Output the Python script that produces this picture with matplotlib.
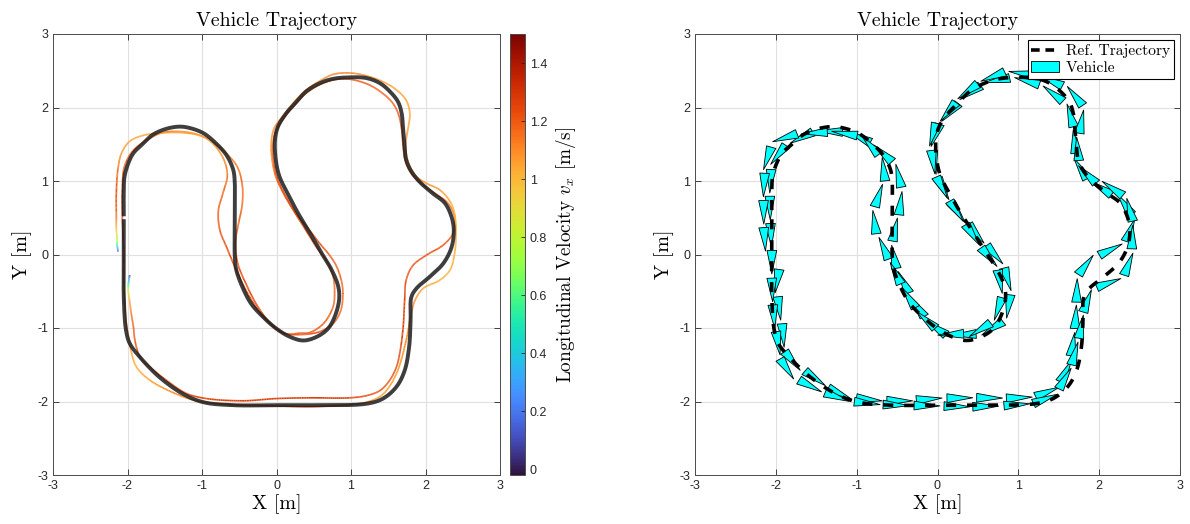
import numpy as np
import matplotlib
matplotlib.use("Agg")
import matplotlib.pyplot as plt
from matplotlib.collections import LineCollection, PolyCollection
from matplotlib.lines import Line2D
from matplotlib.patches import Patch
from matplotlib.colors import Normalize

plt.rcParams["axes.unicode_minus"] = False
plt.rcParams["mathtext.fontset"] = "cm"
plt.rcParams["font.family"] = ["Liberation Sans", "DejaVu Sans"]
SERIF = "cmr10"

# ---------------- reference trajectory (track centre line) ----------------
REF_X = [-2.05, -2.05, -2.05, -2.05, -2.02, -1.97, -1.83, -1.57, -1.25, -0.98,
         -0.58, 0.00, 0.54, 1.21, 1.43, 1.61, 1.72, 1.78, 1.80, 1.81,
         1.88, 2.06, 2.24, 2.35, 2.38, 2.35, 2.26, 2.10, 1.92, 1.81,
         1.74, 1.72, 1.70, 1.68, 1.63, 1.52, 1.39, 1.21, 0.98, 0.76,
         0.58, 0.40, 0.27, 0.13, 0.02, -0.02, -0.01, 0.04, 0.16, 0.29,
         0.45, 0.58, 0.74, 0.83, 0.84, 0.78, 0.69, 0.54, 0.36, 0.18,
         0.00, -0.18, -0.34, -0.45, -0.54, -0.56, -0.56, -0.56, -0.56, -0.58,
         -0.67, -0.81, -0.98, -1.16, -1.30, -1.48, -1.66, -1.79, -1.92, -1.99,
         -2.04, -2.05, -2.05]
REF_Y = [0.48, 0.20, -0.12, -0.58, -1.03, -1.21, -1.40, -1.67, -1.90, -2.01,
         -2.05, -2.05, -2.05, -2.03, -1.96, -1.80, -1.58, -1.26, -0.90, -0.58,
         -0.46, -0.30, -0.12, 0.10, 0.33, 0.51, 0.70, 0.83, 0.99, 1.13,
         1.29, 1.47, 1.70, 1.92, 2.08, 2.22, 2.33, 2.40, 2.41, 2.39,
         2.33, 2.22, 2.08, 1.92, 1.74, 1.56, 1.29, 1.06, 0.81, 0.56,
         0.29, 0.06, -0.21, -0.44, -0.62, -0.85, -1.01, -1.12, -1.17, -1.12,
         -1.01, -0.85, -0.67, -0.46, -0.21, -0.03, 0.33, 0.70, 0.97, 1.15,
         1.35, 1.51, 1.65, 1.72, 1.74, 1.71, 1.63, 1.51, 1.38, 1.24,
         1.06, 0.88, 0.52]

# ---------------- driven vehicle path (two laps) and its speed ----------------
RUN_X = [-1.97, -1.98, -1.99, -1.99, -1.97, -1.95, -1.92, -1.90, -1.83, -1.70,
         -1.48, -1.21, -0.94, -0.45, 0.00, 0.45, 0.98, 1.21, 1.39, 1.52,
         1.61, 1.66, 1.70, 1.72, 1.74, 1.83, 2.01, 2.24, 2.37, 2.39,
         2.30, 2.13, 1.95, 1.81, 1.73, 1.70, 1.68, 1.64, 1.56, 1.44,
         1.28, 1.10, 0.92, 0.74, 0.56, 0.38, 0.24, 0.10, -0.01, -0.05,
         -0.04, 0.01, 0.12, 0.26, 0.42, 0.58, 0.72, 0.81, 0.88, 0.89,
         0.86, 0.76, 0.58, 0.31, 0.10, -0.07, -0.25, -0.40, -0.52, -0.55,
         -0.51, -0.46, -0.46, -0.53, -0.70, -0.90, -1.05, -1.25, -1.52, -1.70,
         -1.92, -2.04, -2.07, -2.07, -2.06, -2.05, -2.05, -2.04, -2.02,
         -1.99, -1.95, -1.88, -1.70, -1.34, -1.07, -0.67, 0.00, 0.45, 0.90,
         1.21, 1.43, 1.61, 1.74, 1.81, 1.86, 1.97, 2.19, 2.33, 2.39,
         2.41, 2.39, 2.33, 2.19, 2.01, 1.88, 1.79, 1.74, 1.74, 1.77,
         1.79, 1.74, 1.61, 1.43, 1.21, 0.98, 0.76, 0.58, 0.40, 0.25,
         0.10, -0.03, -0.07, -0.06, -0.01, 0.10, 0.24, 0.40, 0.55, 0.68,
         0.76, 0.78, 0.76, 0.63, 0.45, 0.31, 0.13, -0.13, -0.36, -0.54,
         -0.67, -0.76, -0.78, -0.72, -0.66, -0.72, -0.90, -1.07, -1.34, -1.57,
         -1.79, -1.97, -2.08, -2.13, -2.15, -2.15, -2.15, -2.14, -2.14, -2.13,
         -2.13]
RUN_Y = [-0.28, -0.34, -0.42, -0.50, -0.64, -0.80, -0.99, -1.17, -1.40, -1.53,
         -1.71, -1.89, -1.96, -1.99, -1.96, -1.95, -1.95, -1.92, -1.85, -1.71,
         -1.53, -1.31, -0.99, -0.62, -0.35, -0.15, -0.01, 0.13, 0.29, 0.51,
         0.70, 0.83, 0.96, 1.10, 1.27, 1.47, 1.70, 1.90, 2.06, 2.18,
         2.29, 2.36, 2.39, 2.37, 2.30, 2.18, 2.03, 1.86, 1.67, 1.48,
         1.27, 1.04, 0.80, 0.56, 0.36, 0.15, -0.02, -0.17, -0.40, -0.58,
         -0.77, -0.94, -1.05, -1.09, -1.07, -0.95, -0.71, -0.42, -0.12, 0.17,
         0.42, 0.68, 0.95, 1.20, 1.40, 1.56, 1.63, 1.67, 1.66, 1.58,
         1.42, 1.20, 0.88, 0.55, 0.25, 0.00, -0.30, -0.60, -0.90,
         -1.10, -1.32, -1.53, -1.71, -1.90, -1.99, -2.04, -2.06, -2.07, -2.05,
         -2.01, -1.90, -1.62, -1.17, -0.80, -0.62, -0.46, -0.35, -0.21, 0.01,
         0.29, 0.56, 0.72, 0.88, 0.97, 1.06, 1.20, 1.38, 1.56, 1.74,
         1.92, 2.10, 2.24, 2.35, 2.43, 2.47, 2.45, 2.36, 2.24, 2.09,
         1.90, 1.72, 1.52, 1.30, 1.06, 0.82, 0.58, 0.32, 0.08, -0.10,
         -0.30, -0.50, -0.71, -0.94, -1.06, -1.07, -1.08, -0.90, -0.58, -0.21,
         0.10, 0.33, 0.60, 0.83, 1.08, 1.32, 1.55, 1.63, 1.66, 1.65,
         1.62, 1.54, 1.38, 1.15, 0.83, 0.50, 0.35, 0.22, 0.13, 0.07,
         0.04]
RUN_V = [0.00, 0.30, 0.60, 0.85, 1.05, 1.15, 1.20, 1.22, 1.22, 1.22,
         1.24, 1.25, 1.25, 1.26, 1.26, 1.27, 1.27, 1.25, 1.22, 1.22,
         1.23, 1.25, 1.27, 1.25, 1.22, 1.22, 1.22, 1.22, 1.18, 1.12,
         1.15, 1.20, 1.22, 1.22, 1.22, 1.25, 1.25, 1.22, 1.20, 1.20,
         1.20, 1.22, 1.22, 1.20, 1.20, 1.20, 1.22, 1.22, 1.20, 1.20,
         1.22, 1.24, 1.25, 1.25, 1.25, 1.24, 1.22, 1.20, 1.18, 1.18,
         1.18, 1.20, 1.22, 1.22, 1.22, 1.22, 1.24, 1.24, 1.22, 1.20,
         1.18, 1.18, 1.18, 1.15, 1.12, 1.10, 1.10, 1.12, 1.15, 1.15,
         1.18, 1.20, 1.22, 1.25, 1.25, 1.25, 1.25, 1.22, 1.15,
         1.08, 1.05, 1.03, 1.05, 1.10, 1.15, 1.20, 1.25, 1.25, 1.22,
         1.10, 1.05, 1.05, 1.10, 1.12, 1.10, 1.05, 1.02, 1.02, 1.03,
         1.03, 1.02, 1.05, 1.08, 1.10, 1.10, 1.08, 1.10, 1.10, 1.08,
         1.05, 1.05, 1.05, 1.08, 1.10, 1.12, 1.12, 1.10, 1.10, 1.10,
         1.12, 1.10, 1.10, 1.12, 1.18, 1.22, 1.24, 1.24, 1.22, 1.20,
         1.18, 1.18, 1.18, 1.20, 1.22, 1.22, 1.22, 1.25, 1.25, 1.25,
         1.22, 1.22, 1.20, 1.18, 1.15, 1.10, 1.05, 1.05, 1.05, 1.05,
         1.05, 1.05, 1.08, 1.15, 1.22, 1.15, 1.00, 0.80, 0.55, 0.25,
         0.05]

V_MIN, V_MAX = -0.02, 1.50
AX_LIM = (-3, 3)
TICKS = [-3, -2, -1, 0, 1, 2, 3]
CBAR_TICKS = [0, 0.2, 0.4, 0.6, 0.8, 1.0, 1.2, 1.4]
CBAR_TICKLABELS = ["0", "0.2", "0.4", "0.6", "0.8", "1", "1.2", "1.4"]

TITLE = "Vehicle Trajectory"
XLABEL = "X [m]"
YLABEL = "Y [m]"
CBAR_LABEL = r"Longitudinal Velocity $v_x$ [m/s]"
LEGEND_LABELS = ["Ref. Trajectory", "Vehicle"]


def centripetal_curve(xs, ys, n=16):
    """Centripetal Catmull-Rom curve through the given waypoints.
    Returns dense points and the fractional waypoint index of each."""
    P = np.column_stack([xs, ys]).astype(float)
    ext = np.vstack([2 * P[0] - P[1], P, 2 * P[-1] - P[-2]])
    pts, idx = [], []
    for i in range(len(P) - 1):
        p0, p1, p2, p3 = ext[i], ext[i + 1], ext[i + 2], ext[i + 3]
        t0 = 0.0
        t1 = t0 + max(np.linalg.norm(p1 - p0), 1e-6) ** 0.5
        t2 = t1 + max(np.linalg.norm(p2 - p1), 1e-6) ** 0.5
        t3 = t2 + max(np.linalg.norm(p3 - p2), 1e-6) ** 0.5
        t = np.linspace(t1, t2, n, endpoint=False)[:, None]
        a1 = (t1 - t) / (t1 - t0) * p0 + (t - t0) / (t1 - t0) * p1
        a2 = (t2 - t) / (t2 - t1) * p1 + (t - t1) / (t2 - t1) * p2
        a3 = (t3 - t) / (t3 - t2) * p2 + (t - t2) / (t3 - t2) * p3
        b1 = (t2 - t) / (t2 - t0) * a1 + (t - t0) / (t2 - t0) * a2
        b2 = (t3 - t) / (t3 - t1) * a2 + (t - t1) / (t3 - t1) * a3
        c = (t2 - t) / (t2 - t1) * b1 + (t - t1) / (t2 - t1) * b2
        pts.append(c)
        idx.append(i + np.linspace(0, 1, n, endpoint=False))
    pts.append(P[-1:])
    idx.append(np.array([len(P) - 1.0]))
    return np.vstack(pts), np.concatenate(idx)


def style_axes(ax):
    ax.set_xlim(*AX_LIM)
    ax.set_ylim(*AX_LIM)
    ax.set_xticks(TICKS)
    ax.set_yticks(TICKS)
    ax.grid(True, color="#e0e0e0", lw=0.8)
    ax.set_axisbelow(True)
    ax.tick_params(direction="in", top=True, right=True, length=4, width=0.6,
                   labelsize=9, colors="#262626")
    for s in ax.spines.values():
        s.set_color("#4d4d4d")
        s.set_linewidth(0.7)
    ax.set_title(TITLE, fontfamily=SERIF, fontsize=14.3, pad=6)
    ax.set_xlabel(XLABEL, fontfamily=SERIF, fontsize=14.5, labelpad=2)
    ax.set_ylabel(YLABEL, fontfamily=SERIF, fontsize=14.5, labelpad=4)


W, H = 1190, 524
fig = plt.figure(figsize=(W / 100, H / 100), dpi=100)
ax1 = fig.add_axes([53 / W, 49 / H, 447 / W, 441 / H])
cax = fig.add_axes([510 / W, 49 / H, 15 / W, 441 / H])
ax2 = fig.add_axes([695 / W, 49 / H, 485 / W, 441 / H])

norm = Normalize(V_MIN, V_MAX)
cmap = plt.get_cmap("turbo")

ref_pts, _ = centripetal_curve(REF_X, REF_Y, n=12)
run_pts, run_idx = centripetal_curve(RUN_X, RUN_Y, n=20)
run_v = np.interp(run_idx, np.arange(len(RUN_V)), RUN_V)

# ---- left: speed-coloured path over the reference ----
style_axes(ax1)
segs = np.stack([run_pts[:-1], run_pts[1:]], axis=1)
lc = LineCollection(segs, cmap=cmap, norm=norm, linewidths=1.2, zorder=2)
lc.set_array(0.5 * (run_v[:-1] + run_v[1:]))
ax1.add_collection(lc)
ax1.plot(ref_pts[:, 0], ref_pts[:, 1], color="#1c1c1c", lw=2.8, alpha=0.85,
         solid_capstyle="butt", zorder=3)

sm = plt.cm.ScalarMappable(norm=norm, cmap=cmap)
cb = fig.colorbar(sm, cax=cax, ticks=CBAR_TICKS)
cb.ax.set_yticklabels(CBAR_TICKLABELS)
cb.ax.tick_params(direction="in", length=3, width=0.6, labelsize=9,
                  colors="#262626")
cb.outline.set_edgecolor("#4d4d4d")
cb.outline.set_linewidth(0.7)
cb.set_label(CBAR_LABEL, fontfamily=SERIF, fontsize=13.8, labelpad=5)

# ---- right: vehicle glyphs along the driven path ----
style_axes(ax2)
SPACING = 0.37
TRI_LEN, TRI_WID = 0.32, 0.12
d = np.diff(run_pts, axis=0)
s = np.concatenate([[0], np.cumsum(np.hypot(d[:, 0], d[:, 1]))])
targets = np.arange(0.05, s[-1], SPACING)
tris = []
for st in targets:
    k = min(np.searchsorted(s, st), len(run_pts) - 2)
    p = run_pts[k]
    a, b = run_pts[max(k - 3, 0)], run_pts[min(k + 3, len(run_pts) - 1)]
    t = b - a
    t = t / np.linalg.norm(t)
    nrm = np.array([-t[1], t[0]])
    tip = p + 0.6 * TRI_LEN * t
    rear = p - 0.4 * TRI_LEN * t
    tris.append([tip, rear + 0.5 * TRI_WID * nrm, rear - 0.5 * TRI_WID * nrm])
pc = PolyCollection(tris, facecolors="#00ffff", edgecolors="black",
                    linewidths=0.6, zorder=2)
ax2.add_collection(pc)
ax2.plot(ref_pts[:, 0], ref_pts[:, 1], color="black", lw=2.6,
         linestyle=(0, (2.8, 3.0)), zorder=3)

handles = [Line2D([0], [0], color="black", lw=2.6, linestyle=(0, (2.4, 1.6))),
           Patch(facecolor="#00ffff", edgecolor="black", linewidth=0.6)]
leg = ax2.legend(handles, LEGEND_LABELS, loc="upper right",
                 prop={"family": SERIF, "size": 11.2}, fancybox=False,
                 framealpha=1, edgecolor="black", borderaxespad=0.4,
                 handlelength=1.8, handletextpad=0.4, borderpad=0.25,
                 labelspacing=0.2)
leg.get_frame().set_linewidth(0.8)

fig.savefig("out.png", dpi=100)
